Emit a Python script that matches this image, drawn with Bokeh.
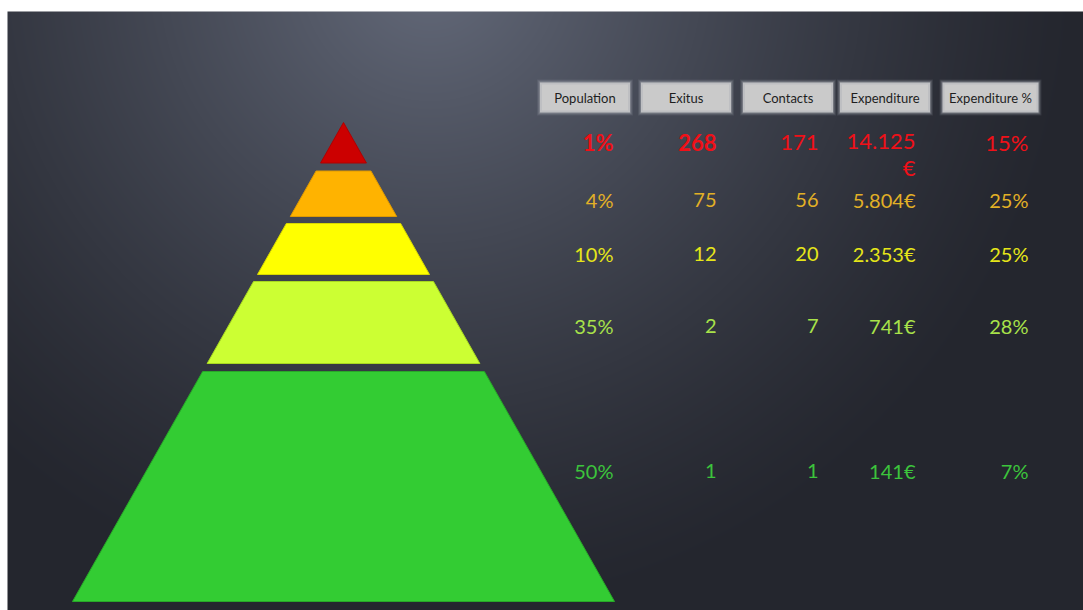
import numpy as np
from bokeh.plotting import figure
from bokeh.models import Range1d, ColumnDataSource
from bokeh.embed import file_html
from bokeh.resources import INLINE
from bokeh.core.properties import value

# ---------------- data ----------------
headers = ["Population", "Exitus", "Contacts", "Expenditure", "Expenditure %"]
population = ["1%", "4%", "10%", "35%", "50%"]
exitus = [268, 75, 12, 2, 1]
contacts = [171, 56, 20, 7, 1]
expenditure = [14125, 5804, 2353, 741, 141]
expenditure_pct = [15, 25, 25, 28, 7]
tier_colors = ["#CC0000", "#FFB300", "#FFFF00", "#CCFF33", "#33CC33"]
tier_edge_colors = ["#B00000", "#E09A00", "#D8D800", "#A8D820", "#28A828"]
text_colors = ["#F01018", "#E2B026", "#E6E619", "#A8E24A", "#3CC43C"]

# ---------------- layout (pixels from top) ----------------
W, H = 1083, 610
FRAME_L, FRAME_T = 7, 11
APEX_X, APEX_Y, BASE_Y, BASE_HALF = 343, 122, 601, 271
tier_bounds = [(122, 162.5), (170.5, 216), (223, 274), (281, 363), (371, 601)]
col_right = [613, 716, 818, 915, 1028]
head_cx = [584.5, 685.5, 787.5, 884.5, 990]
head_w = [90, 90, 90, 90, 96]
head_top, head_bot = 82, 112
row_y = [142, 199, 253, 325, 470]


def Y(v):
    return H - v


def half_w(y):
    return BASE_HALF * (y - APEX_Y) / (BASE_Y - APEX_Y)


p = figure(width=W, height=H, x_range=Range1d(0, W), y_range=Range1d(0, H),
           output_backend="svg", toolbar_location=None, min_border=0)
p.axis.visible = False
p.grid.visible = False
p.outline_line_color = None
p.background_fill_color = "white"
p.border_fill_color = "white"

# ---------------- background gradient ----------------
gw, gh = W - FRAME_L, H - FRAME_T
xs = FRAME_L + np.arange(gw) + 0.5
ys_top = H - (np.arange(gh) + 0.5)
XX, YY = np.meshgrid(xs, ys_top)
d = np.sqrt((XX - 430.0) ** 2 + (YY + 30.0) ** 2)
f = np.clip(1 - d / 660.0, 0, 1) ** 1.3
dark = np.array([36, 38, 46], dtype=float)
light = np.array([100, 106, 122], dtype=float)
img = np.empty((gh, gw), dtype=np.uint32)
view = img.view(dtype=np.uint8).reshape((gh, gw, 4))
for k in range(3):
    view[:, :, k] = (dark[k] + (light[k] - dark[k]) * f).astype(np.uint8)
view[:, :, 3] = 255
p.image_rgba(image=[img], x=FRAME_L, y=0, dw=gw, dh=gh)

# ---------------- pyramid ----------------
pxs, pys = [], []
for (t, b) in tier_bounds:
    ht, hb = half_w(t), half_w(b)
    pxs.append([APEX_X - ht, APEX_X + ht, APEX_X + hb, APEX_X - hb])
    pys.append([Y(t), Y(t), Y(b), Y(b)])
p.patches(xs=pxs, ys=pys, fill_color=tier_colors, line_color=tier_edge_colors, line_width=1)

# ---------------- header boxes (soft edges) ----------------
n = len(headers)
for grow, alpha in [(3, 0.12), (2, 0.2), (1, 0.35)]:
    p.quad(left=[c - w / 2 - grow for c, w in zip(head_cx, head_w)],
           right=[c + w / 2 + grow for c, w in zip(head_cx, head_w)],
           top=[Y(head_top - grow)] * n, bottom=[Y(head_bot + grow)] * n,
           fill_color="#A8ABB2", fill_alpha=alpha, line_color=None)
p.quad(left=[c - w / 2 for c, w in zip(head_cx, head_w)],
       right=[c + w / 2 for c, w in zip(head_cx, head_w)],
       top=[Y(head_top)] * n, bottom=[Y(head_bot)] * n,
       fill_color="#BEBFC2", line_color=None)
p.quad(left=[c - w / 2 + 2 for c, w in zip(head_cx, head_w)],
       right=[c + w / 2 - 2 for c, w in zip(head_cx, head_w)],
       top=[Y(head_top + 2)] * n, bottom=[Y(head_bot - 2)] * n,
       fill_color="#CACACA", line_color=None)
p.text(x=head_cx, y=[Y((head_top + head_bot) / 2)] * n, text=headers,
       text_align="center", text_baseline="middle", text_color="#1E1E1E",
       text_font=value("Lato"), text_font_size="13px")

# ---------------- table values ----------------
def fmt_money(v, wrap):
    s = f"{v:,}".replace(",", ".")
    return s + ("\n€" if wrap else "€")


tx, ty, tt, tc, ts, tst = [], [], [], [], [], []
for i in range(len(population)):
    first = i == 0
    cells = [population[i], str(exitus[i]), str(contacts[i]),
             fmt_money(expenditure[i], first), f"{expenditure_pct[i]}%"]
    for j, c in enumerate(cells):
        tx.append(col_right[j])
        yy = row_y[i] + (11 if "\n" in c else 0)
        ty.append(Y(yy))
        tt.append(c)
        tc.append(text_colors[i])
        ts.append("22px" if first else "20px")
        tst.append("bold" if (first and j < 2) else "normal")

src = ColumnDataSource(dict(x=tx, y=ty, text=tt, color=tc, size=ts, style=tst))
p.text(x="x", y="y", text="text", source=src, text_color="color",
       text_font_size="size", text_font_style="style",
       text_align="right", text_baseline="middle", text_line_height=1.0,
       text_font=value("Lato"))

open("out.html", "w").write(file_html(p, INLINE))
